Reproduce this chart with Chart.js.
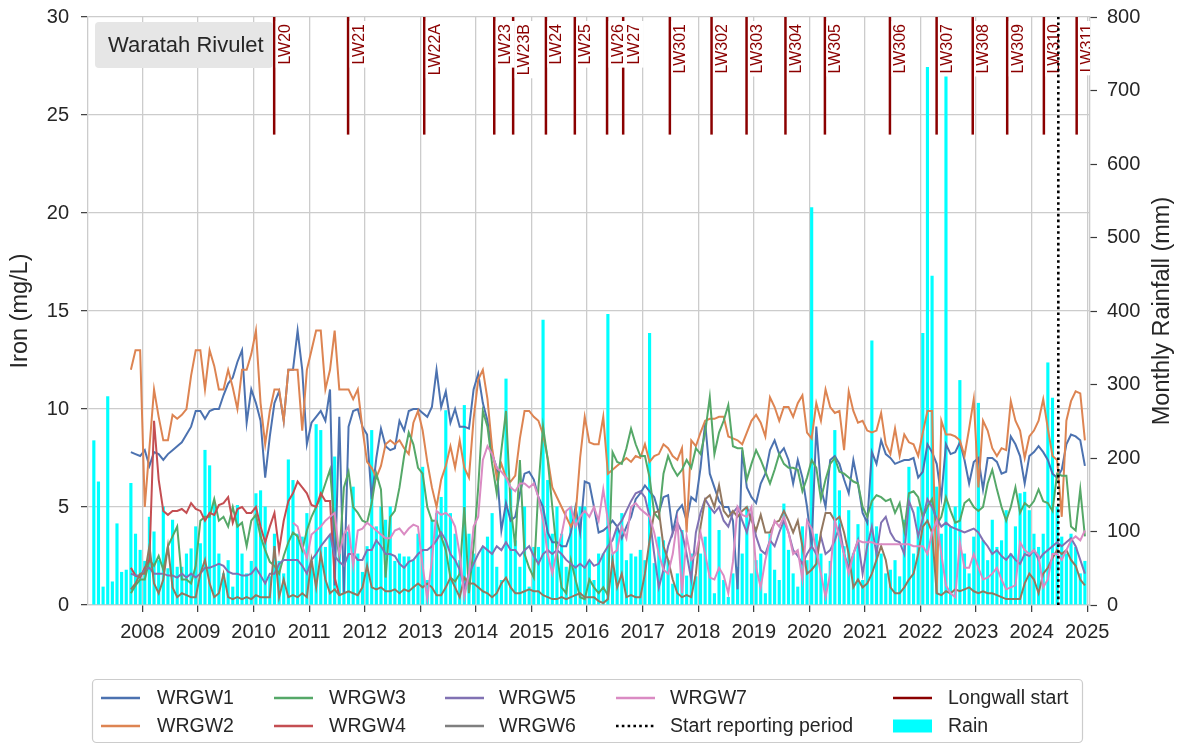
<!DOCTYPE html>
<html>
<head>
<meta charset="utf-8">
<script src="https://cdn.jsdelivr.net/npm/chart.js@4.4.1/dist/chart.umd.min.js"></script>
<style>
  html, body { margin: 0; padding: 0; background: #ffffff; }
  #wrap { width: 1182px; height: 746px; position: relative; }
  canvas { display: block; }
</style>
</head>
<body>
<div id="wrap"><canvas id="chart" width="1182" height="746"></canvas></div>
<script>
// ---- Data -------------------------------------------------------------
const yearTicks = [2008, 2009, 2010, 2011, 2012, 2013, 2014, 2015, 2016,
                   2017, 2018, 2019, 2020, 2021, 2022, 2023, 2024, 2025];

// Monthly rainfall (mm), Feb 2007 to Dec 2024
const rainStart = [2007, 2];
const rainMm = [
  224, 168, 25, 284, 32, 111, 45, 48, 166, 97, 75,
  60, 120, 100, 61, 134, 50, 116, 52, 52, 70, 77, 107,
  84, 211, 190, 138, 70, 43, 61, 25, 136, 70, 43, 60,
  152, 156, 134, 39, 97, 60, 43, 198, 170, 97, 93, 125,
  60, 246, 238, 79, 95, 202, 70, 60, 100, 161, 70, 45,
  80, 238, 107, 134, 116, 134, 60, 70, 66, 66, 61, 97,
  188, 34, 116, 125, 147, 265, 125, 97, 61, 272, 97, 70,
  52, 79, 93, 125, 52, 34, 308, 161, 88, 52, 134, 25,
  79, 79, 388, 170, 97, 134, 97, 52, 134, 125, 134, 134,
  60, 34, 70, 70, 396, 70, 102, 125, 61, 70, 66, 75,
  61, 370, 57, 93, 88, 61, 29, 43, 102, 40, 70, 39,
  70, 93, 134, 16, 102, 34, 11, 43, 52, 70, 134, 43,
  61, 70, 16, 97, 48, 34, 138, 75, 43, 25, 107, 61,
  541, 97, 70, 43, 60, 238, 156, 80, 129, 70, 110, 34,
  116, 360, 107, 70, 43, 48, 61, 39, 116, 188, 70, 134,
  370, 732, 448, 161, 97, 721, 107, 134, 306, 70, 43, 93,
  275, 88, 61, 116, 79, 88, 129, 70, 107, 152, 154, 129,
  97, 79, 97, 330, 282, 134, 93, 70, 97, 79, 43, 60
];

// Monthly iron (mg/L) per bore; each row is one calendar year
const wrgw1Start = [2007, 10];
const wrgw1 = [
  7.8, 7.7, 7.6,
  7.9, 7.1, 7.8, 7.7, 7.4, 7.7, 7.9, 8.1, 8.3, 8.7, 9.1, 9.9,
  9.9, 9.5, 9.9, 10.0, 10.0, 10.7, 11.3, 11.6, 12.4, 13.0, 9.3, 11.0,
  10.3, 9.4, 6.5, 8.6, 10.3, 10.9, 9.4, 12.0, 12.0, 14.0, 12.0, 8.2,
  9.3, 9.6, 9.9, 9.4, 11.0, 1.0, 9.6, 0.6, 9.1, 9.9, 10.0, 9.1,
  8.7, 5.4, 7.5, 9.0, 8.1, 7.9, 8.0, 9.4, 8.9, 9.9, 10.0, 10.0,
  9.8, 9.6, 10.1, 12.0, 10.1, 10.9, 9.3, 10.0, 9.1, 9.1, 9.0, 11.0,
  11.8, 10.3, 9.4, 7.7, 7.0, 3.8, 5.2, 4.3, 4.5, 5.7, 6.7, 6.8,
  6.4, 5.5, 5.0, 3.7, 3.2, 3.2, 3.0, 3.0, 3.7, 5.0, 3.7, 6.3,
  6.2, 5.0, 3.7, 3.8, 4.0, 4.3, 4.0, 3.4, 4.0, 4.5, 5.4, 5.7,
  6.1, 5.8, 5.5, 4.7, 5.5, 5.6, 3.7, 4.8, 5.1, 4.3, 5.5, 5.3,
  7.0, 9.3, 6.7, 6.0, 5.3, 5.0, 5.0, 4.3, 0.8, 7.9, 6.0, 5.5,
  5.2, 6.2, 6.7, 7.9, 8.4, 7.7, 8.0, 7.4, 6.2, 7.4, 6.5, 5.0,
  3.0, 9.1, 6.0, 5.0, 7.4, 7.6, 7.2, 6.4, 5.7, 7.4, 6.2, 4.7,
  4.2, 7.8, 7.2, 8.4, 7.7, 7.5, 7.2, 7.3, 7.4, 7.4, 7.5, 6.5,
  6.8, 8.2, 7.8, 7.2, 5.5, 8.2, 7.7, 7.8, 8.3, 7.4, 6.2, 7.3,
  7.5, 5.9, 7.5, 7.5, 7.3, 6.7, 6.8, 8.6, 8.2, 7.6, 6.2, 7.6,
  7.8, 8.1, 7.8, 7.4, 6.7, 6.5, 6.9, 8.2, 8.7, 8.6, 8.4, 7.1
];

const wrgw2Start = [2007, 10];
const wrgw2 = [
  12.0, 13.0, 13.0,
  5.0, 8.0, 11.0, 9.6, 8.4, 8.4, 9.7, 9.5, 9.7, 10.0, 11.7, 13.0,
  13.0, 11.0, 13.0, 12.2, 11.0, 11.0, 12.0, 11.1, 10.0, 12.0, 12.0, 12.8,
  14.0, 10.3, 8.2, 9.9, 11.0, 11.0, 9.4, 12.0, 12.0, 12.0, 8.9, 12.0,
  13.0, 14.0, 14.0, 11.0, 12.0, 14.0, 11.0, 11.0, 11.0, 10.5, 11.0, 9.0,
  7.3, 7.0, 6.5, 7.1, 8.2, 8.4, 8.2, 8.4, 8.0, 7.7, 9.3, 9.9,
  8.9, 7.3, 6.0, 5.0, 6.4, 7.1, 8.1, 7.0, 8.4, 7.0, 6.5, 9.5,
  11.5, 12.0, 10.5, 8.0, 6.5, 7.2, 6.5, 6.3, 6.6, 8.5, 9.9, 9.9,
  9.6, 9.4, 8.7, 7.5, 6.0, 5.5, 5.0, 4.5, 4.0, 4.5, 7.5, 9.6,
  8.3, 8.2, 8.2, 9.6, 6.7, 6.9, 7.1, 7.3, 7.5, 7.3, 7.6, 7.5,
  8.2, 7.3, 7.6, 7.7, 8.2, 8.0, 7.6, 7.4, 8.0, 3.7, 8.4, 8.1,
  8.8, 9.4, 9.5, 9.5, 9.6, 9.6, 8.6, 8.5, 8.4, 8.2, 8.8, 9.4,
  9.7, 9.3, 8.6, 10.6, 10.1, 9.4, 10.1, 10.1, 9.6, 10.3, 10.7, 8.8,
  8.5, 10.3, 9.4, 11.0, 10.1, 9.8, 9.9, 7.9, 10.9, 9.9, 9.3, 9.4,
  8.9, 8.8, 8.9, 9.8, 8.2, 7.7, 9.0, 7.6, 8.7, 8.3, 8.2, 7.6,
  8.8, 9.9, 9.9, 0.6, 9.4, 8.7, 8.7, 8.6, 8.4, 7.6, 9.0, 10.5,
  6.0, 9.4, 8.9, 8.0, 7.6, 8.0, 7.9, 10.4, 9.4, 8.9, 7.5, 8.6,
  8.9, 9.4, 10.5, 9.0, 7.6, 7.4, 4.5, 9.4, 10.4, 10.9, 10.8, 8.4
];

const wrgw3Start = [2007, 10];
const wrgw3 = [
  0.6, 1.0, 1.3,
  1.3, 2.3, 2.0, 2.5, 1.8, 3.0, 3.5, 4.0, 1.3, 1.3, 1.1, 2.0,
  4.3, 4.5, 4.5, 5.4, 4.3, 4.5, 4.0, 5.0, 4.0, 4.2, 3.0, 4.3,
  4.6, 3.5, 2.8, 2.2, 2.0, 1.6, 2.5, 3.2, 3.7, 3.5, 2.8, 3.8,
  4.5, 5.0, 5.5, 6.2, 6.9, 4.0, 2.5, 6.0, 6.8, 5.0, 4.7, 4.3,
  4.2, 5.2, 6.7, 5.9, 1.4, 4.5, 4.8, 6.0, 7.6, 8.8, 8.2, 7.0,
  6.7, 5.0, 4.3, 4.3, 3.5, 2.8, 1.4, 1.2, 1.6, 5.0, 0.6, 3.0,
  6.0, 9.9, 9.1, 7.2, 5.7, 7.9, 9.9, 5.0, 3.0, 7.4, 2.6, 1.9,
  1.4, 6.0, 9.1, 7.4, 5.0, 2.6, 0.9, 0.6, 2.3, 1.3, 0.4, 0.3,
  1.3, 0.9, 0.6, 0.9, 0.5, 7.8, 7.3, 7.2, 8.0, 9.0, 8.2, 7.6,
  7.6, 6.5, 4.7, 4.4, 6.7, 7.6, 7.0, 6.6, 6.9, 7.4, 7.0, 8.0,
  7.7, 8.8, 10.6, 7.7, 8.8, 9.4, 10.2, 8.1, 8.0, 8.0, 6.4, 7.2,
  7.9, 7.4, 6.8, 6.2, 6.9, 7.7, 7.2, 7.0, 7.0, 6.9, 5.8, 6.5,
  7.4, 7.0, 5.4, 6.4, 7.2, 7.5, 6.8, 6.7, 6.5, 6.3, 6.2, 5.0,
  4.5, 5.3, 5.6, 5.5, 5.3, 5.4, 4.7, 5.2, 3.8, 5.7, 5.8, 5.5,
  4.5, 5.0, 5.4, 4.1, 4.5, 5.5, 4.8, 4.2, 4.3, 5.2, 5.4, 5.0,
  4.8, 5.0, 6.2, 6.9, 5.9, 5.0, 4.3, 5.0, 6.0, 4.7, 5.2, 5.0,
  5.3, 5.9, 5.3, 5.2, 4.8, 6.7, 6.6, 6.6, 4.0, 3.8, 5.9, 3.5
];

const wrgw4Start = [2007, 10];
const wrgw4 = [
  1.9, 1.5, 1.4,
  1.9, 2.3, 9.4, 6.4, 4.8, 4.6, 4.8, 4.8, 4.9, 4.7, 5.2, 4.9,
  4.8, 4.3, 4.7, 4.6, 5.1, 5.2, 5.5, 4.2, 4.9, 5.0, 4.7, 4.7,
  5.0, 4.0, 3.2, 4.0, 4.7, 2.8, 4.3, 5.3, 5.7, 6.3, 6.0, 5.7,
  5.1, 5.0, 5.7, 5.3, 5.3, 1.4, 0.5
];

const wrgw5Start = [2007, 10];
const wrgw5 = [
  1.6, 1.5, 1.5,
  1.8, 1.9, 1.6, 1.6, 1.6, 1.5, 1.5, 1.4, 1.6, 1.4, 1.6, 1.4,
  1.6, 1.9, 1.9, 2.0, 2.1, 2.0, 1.7, 1.6, 1.6, 1.5, 1.5, 1.6,
  1.9, 1.5, 1.1, 1.6, 1.6, 2.1, 2.3, 2.3, 2.3, 2.3, 2.0, 1.6,
  2.3, 2.6, 3.0, 3.3, 3.6, 2.5, 2.2, 2.0, 2.6, 2.6, 2.3, 2.3,
  2.8, 2.8, 3.3, 3.0, 2.6, 2.6, 2.5, 2.1, 1.9, 2.2, 2.3, 2.6,
  2.8, 2.8, 3.0, 3.3, 3.7, 3.3, 2.6, 2.3, 1.8, 0.9, 1.6, 2.1,
  2.6, 3.0, 2.8, 2.6, 3.0, 2.8, 3.2, 2.8, 2.8, 2.5, 2.8, 3.0,
  2.5, 2.1, 2.6, 2.8, 2.6, 2.8, 2.6, 2.3, 2.1, 1.9, 2.1, 1.9,
  2.3, 2.0, 2.1, 2.6, 3.0, 3.3, 4.0, 4.3, 4.8, 5.3, 5.7, 5.8,
  5.5, 4.5, 2.6, 0.9, 1.8, 3.0, 3.7, 4.2, 3.7, 2.6, 1.3, 3.7,
  4.7, 5.4, 5.0, 4.7, 5.0, 4.3, 4.0, 4.7, 5.0, 4.3, 3.7, 4.7,
  3.5, 2.8, 2.6, 3.3, 3.0, 3.7, 4.3, 3.7, 2.8, 2.5, 2.1, 2.6,
  3.0, 2.6, 3.5, 2.6, 2.8, 3.3, 4.0, 2.6, 1.9, 2.6, 3.3, 1.6,
  3.0, 4.0, 2.6, 4.2, 4.5, 3.7, 3.3, 3.2, 2.6, 5.3, 4.7, 3.5,
  4.4, 5.4, 5.0, 4.4, 4.0, 4.2, 4.0, 3.9, 3.8, 3.7, 3.8, 3.9,
  3.7, 3.3, 3.0, 2.6, 2.8, 2.5, 2.3, 2.6, 2.3, 2.1, 2.6, 2.5,
  2.8, 2.3, 2.6, 2.8, 3.0, 3.2, 3.0, 3.2, 3.4, 3.0, 2.3, 1.6
];

const wrgw6Start = [2007, 10];
const wrgw6 = [
  0.8, 1.1, 1.6,
  1.6, 3.0, 1.1, 0.6, 1.3, 3.0, 0.9, 0.4, 0.6, 0.5, 0.4, 0.4,
  1.6, 2.3, 1.1, 0.4, 0.6, 1.6, 0.4, 0.3, 0.4, 0.3, 0.4, 0.3,
  0.5, 0.4, 0.4, 0.4, 3.0, 0.4, 1.3, 0.4, 0.5, 0.4, 0.6, 0.4,
  2.3, 0.9, 2.6, 1.3, 0.6, 0.8, 0.5, 0.6, 0.7, 0.6, 0.5, 0.9,
  2.0, 0.9, 0.8, 0.9, 0.7, 0.7, 0.8, 0.6, 0.8, 0.7, 0.9, 1.1,
  0.9, 1.1, 0.9, 0.5, 0.5, 0.9, 1.4, 0.9, 0.4, 1.4, 1.1, 1.1,
  0.9, 0.7, 0.6, 0.4, 0.6, 1.1, 1.4, 0.9, 0.6, 0.6, 0.7, 0.8,
  0.7, 0.7, 0.5, 0.4, 0.3, 0.3, 0.4, 0.3, 0.4, 0.5, 0.6, 0.4,
  0.4, 0.4, 0.2, 0.1, 0.3, 2.3, 0.9, 1.6, 0.4, 0.5, 0.4, 0.4,
  1.6, 3.3, 4.7, 4.8, 3.0, 2.3, 1.3, 0.6, 0.4, 0.5, 0.4, 1.6,
  4.0, 5.4, 5.6, 5.0, 6.1, 4.8, 4.5, 4.8, 4.5, 4.8, 5.0, 4.3,
  3.8, 4.6, 3.7, 3.7, 4.2, 4.3, 4.8, 4.3, 3.7, 4.3, 3.0, 1.6,
  1.8, 2.1, 3.7, 4.7, 4.7, 4.3, 4.5, 3.7, 2.6, 0.9, 1.3, 0.9,
  1.1, 1.6, 2.3, 3.0, 2.3, 0.9, 0.6, 0.6, 0.9, 1.3, 1.6, 2.6,
  4.0, 4.3, 3.7, 0.6, 0.5, 0.7, 0.6, 0.8, 0.7, 0.8, 0.9, 0.7,
  0.6, 0.7, 0.6, 0.6, 0.5, 0.4, 0.3, 0.3, 0.3, 0.3, 1.1, 1.6,
  1.3, 0.6, 1.6, 1.9, 2.4, 2.8, 2.6, 2.8, 2.3, 2.0, 1.3, 1.0
];

const wrgw7Start = [2010, 9];
const wrgw7 = [
  4.2, 4.0, 3.0, 2.4,
  3.6, 3.8, 4.0, 4.3, 4.5, 4.7, 2.6, 3.6, 4.0, 2.0, 3.8, 3.9,
  4.2, 4.0, 3.8, 3.6, 3.4, 3.4, 3.8, 3.9, 3.6, 3.9, 4.1, 4.0,
  2.0, 0.3, 2.3, 4.8, 4.6, 4.7, 4.5, 4.0, 2.6, 0.4, 1.6, 4.0,
  4.5, 7.4, 8.1, 7.7, 7.0, 6.8, 6.5, 6.0, 5.8, 6.2, 6.2, 6.0,
  6.2, 5.5, 4.3, 2.6, 1.6, 2.8, 3.6, 4.8, 5.0, 4.0, 4.5, 4.8,
  4.5, 5.0, 4.3, 5.9, 4.3, 2.6, 2.8, 4.0, 3.4, 5.0, 5.2, 4.9,
  4.7, 4.5, 3.7, 2.6, 1.8, 1.6, 2.6, 4.3, 0.6, 3.5, 2.3, 2.6,
  3.7, 2.6, 1.4, 1.3, 1.9, 1.5, 0.6, 2.2, 5.0, 4.6, 4.5, 5.0,
  1.9, 0.9, 2.3, 3.3, 4.3, 4.0, 4.5, 3.7, 2.6, 2.8, 1.3, 4.3,
  3.9, 2.8, 1.6, 0.4, 1.6, 4.3, 3.5, 2.6, 1.6, 2.6, 3.3, 3.2,
  3.2, 3.2, 3.1, 3.1, 3.1, 3.1, 3.1, 3.1, 3.1, 3.1, 3.0, 3.0,
  3.0, 2.6, 3.7, 4.3, 2.6, 1.0, 0.6, 0.4, 3.2, 1.9, 1.9, 2.6,
  1.9, 1.3, 1.4, 1.6, 1.9, 1.3, 0.8, 0.9, 1.0, 3.2, 2.8, 2.6,
  2.8, 2.5, 0.9, 1.3, 2.6, 2.6, 2.3, 2.8, 3.3, 3.5, 3.3, 3.8
];

// Longwall start dates (decimal years)
const longwallNames = ['LW20', 'LW21', 'LW22A', 'LW23', 'LW23B', 'LW24', 'LW25', 'LW26', 'LW27',
  'LW301', 'LW302', 'LW303', 'LW304', 'LW305', 'LW306', 'LW307', 'LW308', 'LW309', 'LW310', 'LW311'];
const longwallYears = [2010.37, 2011.70, 2013.07, 2014.33, 2014.67, 2015.26, 2015.78, 2016.36, 2016.65,
  2017.49, 2018.24, 2018.87, 2019.57, 2020.28, 2021.45, 2022.29, 2022.94, 2023.56, 2024.22, 2024.81];

const reportingStart = 2024.48;

// ---- Styling ----------------------------------------------------------
const FONT = "'Liberation Sans', Arial, Helvetica, sans-serif";
const TEXT = '#262626';
const GRID = '#cccccc';
const TICK = '#3a3a3a';
const LONGWALL = '#8b0000';
const RAIN = '#00ffff';
const MARKER_FROM = 24;   // longwall markers span the top of the iron axis
const IRON_MAX = 30;
const REPORTING_LABEL = 'Start reporting period';

const series = [
  { name: 'WRGW1', start: wrgw1Start, values: wrgw1, color: '#4c72b0', key: '#4c72b0' },
  { name: 'WRGW2', start: wrgw2Start, values: wrgw2, color: '#dd8452', key: '#dd8452' },
  { name: 'WRGW3', start: wrgw3Start, values: wrgw3, color: '#55a868', key: '#55a868' },
  { name: 'WRGW4', start: wrgw4Start, values: wrgw4, color: '#c44e52', key: '#c44e52' },
  { name: 'WRGW5', start: wrgw5Start, values: wrgw5, color: '#8172b3', key: '#8172b3' },
  { name: 'WRGW6', start: wrgw6Start, values: wrgw6, color: '#937860', key: '#7f7f7f' },
  { name: 'WRGW7', start: wrgw7Start, values: wrgw7, color: '#da8bc3', key: '#da8bc3' }
];

function monthPoints(start, values) {
  const [y0, m0] = start;
  const pts = [];
  values.forEach((v, i) => {
    if (v !== null) pts.push({ x: y0 + (m0 - 1 + i + 0.5) / 12, y: v });
  });
  return pts;
}

// ---- Datasets ---------------------------------------------------------
const datasets = [];
datasets.push({
  type: 'bar', label: 'Rain', data: monthPoints(rainStart, rainMm), yAxisID: 'y2',
  backgroundColor: RAIN, borderWidth: 0, barPercentage: 0.68, categoryPercentage: 1.0,
  grouped: false, order: 50
});
series.forEach((s, k) => {
  datasets.push({
    type: 'line', label: s.name, data: monthPoints(s.start, s.values), yAxisID: 'y',
    borderColor: s.color, borderWidth: 2, pointRadius: 0, tension: 0, fill: false,
    spanGaps: false, order: 40 - k
  });
});
longwallNames.forEach((name, i) => {
  datasets.push({
    type: 'line', label: name, yAxisID: 'y',
    data: [{ x: longwallYears[i], y: MARKER_FROM }, { x: longwallYears[i], y: IRON_MAX }],
    borderColor: LONGWALL, borderWidth: 2.5, pointRadius: 0, order: 10
  });
});
datasets.push({
  type: 'line', label: REPORTING_LABEL, yAxisID: 'y',
  data: [{ x: reportingStart, y: 0 }, { x: reportingStart, y: IRON_MAX }],
  borderColor: '#000000', borderWidth: 2.6, borderDash: [2.6, 3.2], pointRadius: 0, order: 5
});

// ---- Annotations, titles and legend -----------------------------------
function roundRect(ctx, x, y, w, h, r) {
  ctx.beginPath();
  ctx.moveTo(x + r, y);
  ctx.lineTo(x + w - r, y);
  ctx.arcTo(x + w, y, x + w, y + r, r);
  ctx.lineTo(x + w, y + h - r);
  ctx.arcTo(x + w, y + h, x + w - r, y + h, r);
  ctx.lineTo(x + r, y + h);
  ctx.arcTo(x, y + h, x, y + h - r, r);
  ctx.lineTo(x, y + r);
  ctx.arcTo(x, y, x + r, y, r);
  ctx.closePath();
}

function drawLongwallLabels(chart) {
  const { ctx, chartArea: a, scales } = chart;
  const xs = scales.x;
  ctx.save();
  ctx.beginPath();
  ctx.rect(a.left, a.top, a.right - a.left, a.bottom - a.top);
  ctx.clip();
  ctx.font = '16px ' + FONT;
  longwallNames.forEach((name, i) => {
    const px = xs.getPixelForValue(longwallYears[i]);
    const w = ctx.measureText(name).width;
    const top = a.top + 7;
    ctx.fillStyle = '#ffffff';
    ctx.fillRect(px + 1.6, top - 3, 19, w + 6);
    ctx.save();
    ctx.translate(px + 15.5, top);
    ctx.rotate(-Math.PI / 2);
    ctx.fillStyle = LONGWALL;
    ctx.textAlign = 'right';
    ctx.textBaseline = 'alphabetic';
    ctx.fillText(name, 0, 0);
    ctx.restore();
  });
  ctx.restore();
}

const decor = {
  id: 'decor',
  // labels sit above the longwall markers but below the reporting-period line
  beforeDatasetDraw(chart, args) {
    const ds = chart.data.datasets[args.index];
    if (ds && ds.label === REPORTING_LABEL) drawLongwallLabels(chart);
  },
  afterDatasetsDraw(chart) {
    const { ctx } = chart;
    // site name box
    ctx.save();
    roundRect(ctx, 95, 22, 178, 46, 4);
    ctx.fillStyle = '#e6e6e6';
    ctx.fill();
    ctx.fillStyle = TEXT;
    ctx.font = '22px ' + FONT;
    ctx.textAlign = 'left';
    ctx.textBaseline = 'alphabetic';
    ctx.fillText('Waratah Rivulet', 108, 52);
    ctx.restore();
  },
  afterDraw(chart) {
    const { ctx, chartArea: a } = chart;
    const midY = (a.top + a.bottom) / 2;

    // axis titles, both reading bottom to top
    ctx.save();
    ctx.fillStyle = TEXT;
    ctx.font = '23.5px ' + FONT;
    ctx.textAlign = 'center';
    ctx.textBaseline = 'middle';
    ctx.save();
    ctx.translate(21, midY);
    ctx.rotate(-Math.PI / 2);
    ctx.fillText('Iron (mg/L)', 0, 0);
    ctx.restore();
    ctx.save();
    ctx.translate(1163, midY);
    ctx.rotate(-Math.PI / 2);
    ctx.fillText('Monthly Rainfall (mm)', 0, 0);
    ctx.restore();
    ctx.restore();

    // legend
    ctx.save();
    roundRect(ctx, 92.5, 679.5, 990, 63, 4);
    ctx.fillStyle = '#ffffff';
    ctx.fill();
    ctx.strokeStyle = '#cccccc';
    ctx.lineWidth = 1.2;
    ctx.stroke();

    const colSwatch = [101, 274, 445, 616, 893];
    const colText = [157, 329, 499, 670, 948];
    const rowY = [698, 726];
    const items = [
      { label: 'WRGW1', kind: 'line', color: series[0].key },
      { label: 'WRGW2', kind: 'line', color: series[1].key },
      { label: 'WRGW3', kind: 'line', color: series[2].key },
      { label: 'WRGW4', kind: 'line', color: series[3].key },
      { label: 'WRGW5', kind: 'line', color: series[4].key },
      { label: 'WRGW6', kind: 'line', color: series[5].key },
      { label: 'WRGW7', kind: 'line', color: series[6].key },
      { label: REPORTING_LABEL, kind: 'dots', color: '#000000' },
      { label: 'Longwall start', kind: 'line', color: LONGWALL },
      { label: 'Rain', kind: 'box', color: RAIN }
    ];
    ctx.font = '19.5px ' + FONT;
    ctx.textAlign = 'left';
    ctx.textBaseline = 'middle';
    items.forEach((it, i) => {
      const col = Math.floor(i / 2), row = i % 2;
      const sx = colSwatch[col], y = rowY[row];
      if (it.kind === 'box') {
        ctx.fillStyle = it.color;
        ctx.fillRect(sx, y - 6.5, 39, 13);
      } else {
        ctx.beginPath();
        ctx.moveTo(sx, y);
        ctx.lineTo(sx + 39, y);
        ctx.strokeStyle = it.color;
        ctx.lineWidth = 2.5;
        ctx.setLineDash(it.kind === 'dots' ? [2.6, 3.2] : []);
        ctx.stroke();
        ctx.setLineDash([]);
      }
      ctx.fillStyle = TEXT;
      ctx.fillText(it.label, colText[col], y + 1);
    });
    ctx.restore();
  }
};

// ---- Chart ------------------------------------------------------------
const tickFont = { family: FONT, size: 20 };
const noEdgePadding = (s) => { s.paddingTop = 0; s.paddingBottom = 0; s.paddingLeft = 0; s.paddingRight = 0; };

new Chart(document.getElementById('chart'), {
  type: 'line',
  data: { datasets },
  plugins: [decor],
  options: {
    responsive: false,
    animation: false,
    devicePixelRatio: 1,
    layout: { padding: { top: 17, left: 0, right: 0, bottom: 0 } },
    plugins: { legend: { display: false }, tooltip: { enabled: false } },
    scales: {
      x: {
        type: 'linear', min: 2007.02, max: 2025.05, offset: false,
        afterBuildTicks: (s) => { s.ticks = yearTicks.map((v) => ({ value: v })); },
        afterFit: (s) => { s.height = 141; noEdgePadding(s); },
        ticks: { callback: (v) => String(v), font: tickFont, color: TEXT, padding: 8,
                 maxRotation: 0, autoSkip: false },
        grid: { offset: false, color: GRID, lineWidth: 1.3, tickLength: 7, tickColor: TICK, tickWidth: 1.2 },
        border: { color: GRID, width: 1.3 }
      },
      y: {
        position: 'left', min: 0, max: IRON_MAX,
        afterFit: (s) => { s.width = 88; noEdgePadding(s); },
        ticks: { stepSize: 5, font: tickFont, color: TEXT, padding: 12 },
        grid: { offset: false, color: GRID, lineWidth: 1.3, tickLength: 7, tickColor: TICK, tickWidth: 1.2 },
        border: { color: GRID, width: 1.3 }
      },
      y2: {
        position: 'right', min: 0, max: 800,
        afterFit: (s) => { s.width = 92; noEdgePadding(s); },
        ticks: { stepSize: 100, font: tickFont, color: TEXT, padding: 10 },
        grid: { offset: false, drawOnChartArea: false, tickLength: 7, tickColor: TICK, tickWidth: 1.2 },
        border: { color: GRID, width: 1.3 }
      }
    }
  }
});
</script>
</body>
</html>
